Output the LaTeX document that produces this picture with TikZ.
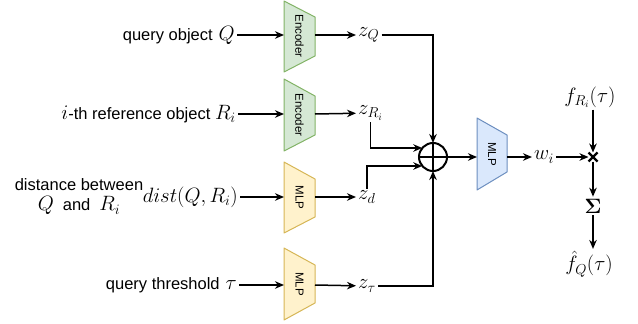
\documentclass[tikz,border=0pt]{standalone}
\usepackage[no-math]{fontspec}
\setmainfont{Liberation Sans}
\usetikzlibrary{arrows.meta,calc}
\definecolor{encfill}{HTML}{D5E8D4}
\definecolor{encdraw}{HTML}{82B366}
\definecolor{mlpfill}{HTML}{FFF2CC}
\definecolor{mlpdraw}{HTML}{D6B656}
\definecolor{bluefill}{HTML}{DAE8FC}
\definecolor{bluedraw}{HTML}{6C8EBF}
\newcommand\mm[1]{{\fontsize{19.5}{20}\selectfont$#1$}}
\begin{document}
\begin{tikzpicture}[x=1pt,y=-1pt,
  font=\fontsize{16.5}{20}\selectfont,
  arr/.style={line width=1.5pt,-{Stealth[length=9pt,width=7.5pt]}},
  encst/.style={fill=encfill,draw=encdraw,line width=1pt,line join=round},
  mlpst/.style={fill=mlpfill,draw=mlpdraw,line width=1pt,line join=round},
  bluest/.style={fill=bluefill,draw=bluedraw,line width=1pt,line join=round},
  boxtxt/.style={rotate=-90,font=\fontsize{11.5}{13}\selectfont,inner sep=0pt},
  lbl/.style={inner sep=2pt},
  zlbl/.style={inner sep=2pt,anchor=west}]
\useasboundingbox (0,0) rectangle (638,324);

% trapezoids
\draw[encst] (284,1) -- (315,17) -- (315,56) -- (284,72) -- cycle;
\draw[encst] (284,79) -- (315,96) -- (315,135) -- (284,151) -- cycle;
\draw[mlpst] (284,162) -- (315,179) -- (315,217) -- (284,233) -- cycle;
\draw[mlpst] (284,248) -- (315,265) -- (315,303) -- (284,320) -- cycle;
\draw[bluest] (477,118) -- (507,135) -- (507,172) -- (477,190) -- cycle;

\node[boxtxt] (enc1) at (299.5,36) {Encoder};
\node[boxtxt] (enc2) at (299.5,115) {Encoder};
\node[boxtxt] (mlp1) at (299.5,197.5) {MLP};
\node[boxtxt] (mlp2) at (299.5,284) {MLP};
\node[boxtxt] (mlp3) at (492,154) {MLP};

\coordinate (enc1w) at (284,35);  \coordinate (enc1e) at (315,35);
\coordinate (enc2w) at (284,114); \coordinate (enc2e) at (315,114);
\coordinate (mlp1w) at (284,197); \coordinate (mlp1e) at (315,197);
\coordinate (mlp2w) at (284,285); \coordinate (mlp2e) at (315,285);
\coordinate (mlp3w) at (477,157); \coordinate (mlp3e) at (507,157);

% left labels
\node[lbl,anchor=east] (tq) at (237,35) {query object\hspace{6pt}\mm{Q}};
\node[lbl,anchor=east] (tr) at (238,114) {\mm{i}-th reference object \mm{R_i}};
\node[lbl,anchor=east] (td) at (240,197) {\mm{dist(Q,R_i)}};
\node[lbl,align=center] (tdesc) at (79,197) {distance between\\\mm{Q}\hspace{9pt}and\hspace{9pt}\mm{R_i}};
\node[lbl,anchor=east] (tt) at (239,285) {query threshold\hspace{6pt}\mm{\tau}};

\draw[arr] (tq) -- (enc1w);
\draw[arr] (tr) -- (enc2w);
\draw[arr] (td) -- (mlp1w);
\draw[arr] (tt) -- (mlp2w);

% z labels
\node[zlbl] (zQ) at (356,35) {\mm{z_Q}};
\node[zlbl] (zR) at (356,113) {\mm{z_{R_i}}};
\node[zlbl] (zd) at (356,197) {\mm{z_d}};
\node[zlbl] (zt) at (356,286) {\mm{z_\tau}};

\draw[arr] (enc1e) -- (zQ);
\draw[arr] (enc2e) -- (zR);
\draw[arr] (mlp1e) -- (zd);
\draw[arr] (mlp2e) -- (zt);

% oplus
\node[circle,draw,line width=2pt,minimum size=28pt,inner sep=0pt,outer sep=0pt] (plus) at (433,157) {};
\draw[line width=2pt] (plus.north) -- (plus.south) (plus.west) -- (plus.east);

\draw[arr] (zQ.east) -| (plus.north);
\draw[arr] (zt.east) -| (plus.south);
\draw[arr] (zR.south) |- (plus.140);
\draw[arr] (zd.north) |- (plus.220);

\draw[arr] (plus.east) -- (mlp3w);

% right part
\node[zlbl] (wi) at (532,157) {\mm{w_i}};
\draw[arr] (mlp3e) -- (wi);
\node[minimum size=9pt,inner sep=0pt,outer sep=0pt] (times) at (593,157) {};
\draw[line width=2.4pt] (times.north west) -- (times.south east) (times.north east) -- (times.south west);
\draw[arr] (wi.east) -- (times.west);

\node[lbl] (fR) at (590,97) {\mm{f_{R_i}(\tau)}};
\draw[arr] (fR.south -| times.north) -- (times.north);

\node[inner sep=2pt,font=\fontsize{21}{24}\selectfont] (sig) at (593,206) {$\mathbf{\Sigma}$};
\draw[arr] (times.south) -- (sig.north);

\node[lbl] (fhat) at (589,264) {\mm{\hat{f}_Q(\tau)}};
\draw[arr] (sig.south) -- (fhat.north -| sig.south);
\end{tikzpicture}
\end{document}
